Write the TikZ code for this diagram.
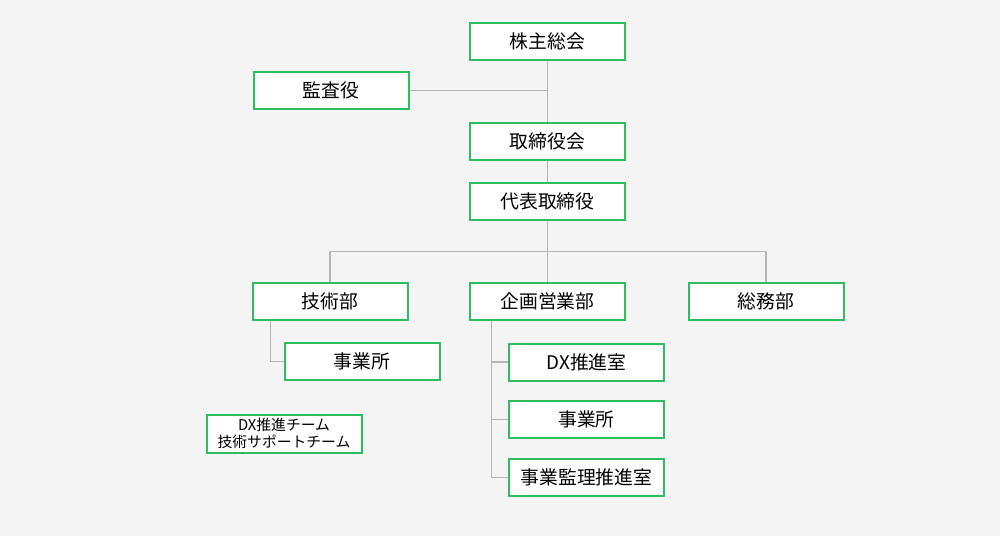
\documentclass[tikz,border=0pt]{standalone}
\usepackage{fontspec}
\setmainfont{Noto Sans CJK JP}
\definecolor{bg}{HTML}{F4F4F4}
\definecolor{boxgreen}{HTML}{2DBE60}
\definecolor{conngray}{HTML}{B4B4B4}
\begin{document}
\begin{tikzpicture}[x=1pt,y=-1pt,
  orgbox/.style={draw=boxgreen, line width=2pt, fill=white, minimum width=155pt, minimum height=37pt, inner sep=0pt, font=\fontsize{18.8pt}{21pt}\selectfont},
  smallbox/.style={draw=boxgreen, line width=2pt, fill=white, minimum width=155pt, minimum height=38pt, inner sep=0pt, align=center, font=\fontsize{14.8pt}{17pt}\selectfont},
  conn/.style={draw=conngray, line width=1.1pt}]
\fill[bg] (0,0) rectangle (1000,536);
\useasboundingbox (0,0) rectangle (1000,536);
% helper coordinates
\coordinate (bus) at (0,251.5);
\coordinate (gA) at (270.5,0);
\coordinate (kA) at (491.5,0);
% nodes
\node[orgbox] (kabu) at (547.5,41) {株主総会};
\node[orgbox] (kansa) at (331,90.5) {監査役};
\node[orgbox] (tori) at (547.5,141) {取締役会};
\node[orgbox] (dai) at (547.5,201) {代表取締役};
\node[orgbox] (gi) at (330,301.5) {技術部};
\node[orgbox] (kiku) at (547.5,301.5) {企画営業部};
\node[orgbox] (so) at (766,301.5) {総務部};
\node[orgbox] (jA) at (362,361.5) {事業所};
\node[orgbox] (dx) at (586.5,362) {DX推進室};
\node[orgbox] (jB) at (586.5,419.5) {事業所};
\node[orgbox] (kan) at (586.5,477.5) {事業監理推進室};
\node[smallbox] (team) at (284,433.5) {DX推進チーム\\技術サポートチーム};
% connectors
\draw[conn] (kabu.south) -- (tori.north);
\draw[conn] (kansa.east) -- (kansa.east -| kabu.south);
\draw[conn] (tori.south) -- (dai.north);
\draw[conn] (dai.south) -- (kiku.north);
\draw[conn] (gi.north) -- (gi.north |- bus) -- (so.north |- bus) -- (so.north);
\draw[conn] (gi.south -| gA) |- (jA.west);
\draw[conn] (kiku.south -| kA) |- (kan.west);
\draw[conn] (dx.west) -- (dx.west -| kA);
\draw[conn] (jB.west) -- (jB.west -| kA);
\end{tikzpicture}
\end{document}
